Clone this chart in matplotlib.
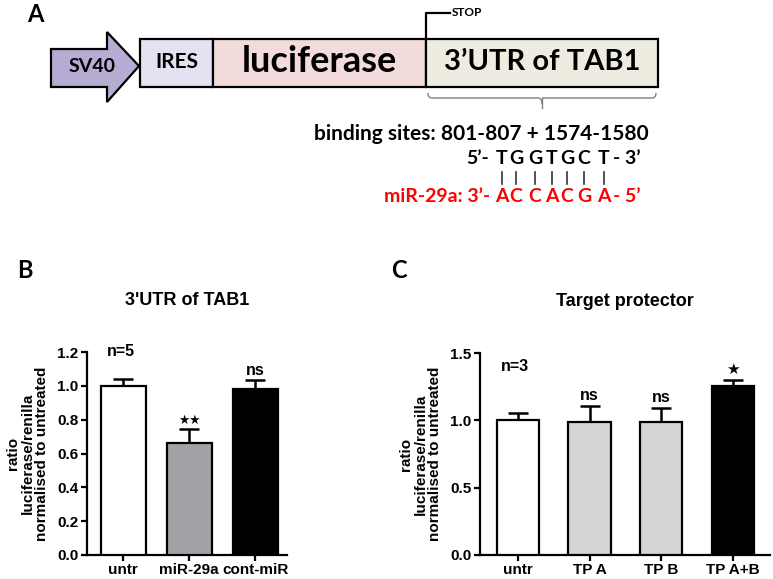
import matplotlib
matplotlib.use('Agg')
from matplotlib import pyplot as plt
from matplotlib.patches import Polygon, Rectangle
from matplotlib.path import Path
from matplotlib.patches import PathPatch

# panel B data
b_categories = ['untr', 'miR-29a', 'cont-miR']
b_means = [1.00, 0.664, 0.979]
b_errors = [0.038, 0.081, 0.055]
b_colors = ['white', '#a3a3a7', 'black']
b_marks = ['', '\u2605\u2605', 'ns']
b_yticks = [0.0, 0.2, 0.4, 0.6, 0.8, 1.0, 1.2]

# panel C data
c_categories = ['untr', 'TP A', 'TP B', 'TP A+B']
c_means = [1.00, 0.99, 0.99, 1.255]
c_errors = [0.052, 0.116, 0.099, 0.045]
c_colors = ['white', '#d4d4d4', '#d4d4d4', 'black']
c_marks = ['', 'ns', 'ns', '\u2605']
c_yticks = [0.0, 0.5, 1.0, 1.5]

# sequence pairing in panel A
target_seq = ['T', 'G', 'G', 'T', 'G', 'C', 'T']
mir_seq = ['A', 'C', 'C', 'A', 'C', 'G', 'A']

W, H = 773, 579
plt.rcParams['font.family'] = ['Liberation Sans', 'DejaVu Sans']
fig = plt.figure(figsize=(W / 100, H / 100), dpi=100)

# ---- panel A: construct diagram, drawn in pixel coords ----
ax0 = fig.add_axes([0, 0, 1, 1])
ax0.set_xlim(0, W)
ax0.set_ylim(H, 0)
ax0.axis('off')
cal = ['Lato', 'DejaVu Sans']

ax0.text(35, 15, 'A', family=cal, fontsize=17, fontweight='bold', ha='center', va='center')
ax0.text(25, 271, 'B', family=cal, fontsize=17, fontweight='bold', ha='center', va='center')
ax0.text(399, 271, 'C', family=cal, fontsize=17, fontweight='bold', ha='center', va='center')

arrow = Polygon([(51, 49), (107, 49), (107, 32), (139, 66), (107, 102), (107, 87), (51, 87)],
                closed=True, facecolor='#b7acd4', edgecolor='black', lw=1.6)
ax0.add_patch(arrow)
ax0.text(92, 67, 'SV40', family=cal, fontsize=14, fontweight='bold', ha='center', va='center')

boxes = [(140, 213, '#e5e1f0', 'IRES', 15),
         (213, 426, '#f2dcdb', 'luciferase', 26),
         (426, 658, '#eeece1', '3\u2019UTR of TAB1', 21)]
for x0, x1, fc, label, fs in boxes:
    ax0.add_patch(Rectangle((x0, 39), x1 - x0, 48, facecolor=fc, edgecolor='black', lw=1.6))
    ax0.text((x0 + x1) / 2, 62, label, family=cal, fontsize=fs, fontweight='bold',
             ha='center', va='center')

ax0.plot([426, 426, 450], [39, 13, 13], color='black', lw=1.6)
ax0.text(452, 13, 'STOP', family=cal, fontsize=8.5, fontweight='bold', ha='left', va='center')

# brace under 3'UTR
brace = Path([(428, 93), (428, 98), (432, 98), (538, 98), (542, 98), (542, 104),
              (542, 98), (546, 98), (652, 98), (656, 98), (656, 93)],
             [Path.MOVETO, Path.CURVE3, Path.CURVE3, Path.LINETO, Path.CURVE3, Path.CURVE3,
              Path.MOVETO, Path.CURVE3, Path.LINETO, Path.CURVE3, Path.CURVE3])
ax0.add_patch(PathPatch(brace, facecolor='none', edgecolor='#7f7f7f', lw=1.0))
ax0.plot([542, 542], [98, 108], color='#7f7f7f', lw=1.0)

ax0.text(481, 134, 'binding sites: 801-807 + 1574-1580', family=cal, fontsize=15,
         fontweight='bold', ha='center', va='center')

letter_x = [502, 516, 535, 552, 567, 584, 604]
ax0.text(489, 158, '5\u2019-', family=cal, fontsize=14, fontweight='bold', ha='right', va='center')
ax0.text(613, 158, '- 3\u2019', family=cal, fontsize=14, fontweight='bold', ha='left', va='center')
ax0.text(490, 197, 'miR-29a: 3\u2019-', family=cal, fontsize=14, fontweight='bold',
         color='#ff0000', ha='right', va='center')
ax0.text(613, 197, '- 5\u2019', family=cal, fontsize=14, fontweight='bold', color='#ff0000',
         ha='left', va='center')
for x, t, m in zip(letter_x, target_seq, mir_seq):
    ax0.text(x, 158, t, family=cal, fontsize=14, fontweight='bold', ha='center', va='center')
    ax0.text(x, 197, m, family=cal, fontsize=14, fontweight='bold', color='#ff0000',
             ha='center', va='center')
    ax0.plot([x, x], [172, 184], color='#333333', lw=1.2)


# ---- bar panels ----
def bar_panel(rect, cats, means, errs, colors, marks, yticks, ymax, width, title, n_text, n_pos,
              mark_pad, xlim):
    ax = fig.add_axes(rect)
    x = list(range(len(cats)))
    ax.bar(x, means, width=width, color=colors, edgecolor='black', linewidth=1.6, zorder=3)
    ax.errorbar(x, means, yerr=[[0] * len(errs), errs], fmt='none', ecolor='black',
                elinewidth=1.8, capsize=7.5, capthick=1.8, zorder=2)
    for xi, m, e, s in zip(x, means, errs, marks):
        if s:
            if '\u2605' in s:
                ax.text(xi, m + e + mark_pad, s, ha='center', va='bottom',
                        fontsize=11 if len(s) == 1 else 9, family=['DejaVu Sans'])
            else:
                ax.text(xi, m + e + mark_pad, s, ha='center', va='bottom', fontsize=11.5,
                        fontweight='bold')
    ax.text(n_pos[0], n_pos[1], n_text, ha='center', va='center', fontsize=11.5, fontweight='bold')
    ax.set_xlim(*xlim)
    ax.set_ylim(0, ymax)
    ax.set_yticks(yticks)
    ax.set_yticklabels(['%.1f' % v for v in yticks], fontweight='bold', fontsize=11)
    ax.set_xticks(x)
    ax.set_xticklabels(cats, fontweight='bold', fontsize=11)
    for s in ['top', 'right']:
        ax.spines[s].set_visible(False)
    for s in ['left', 'bottom']:
        ax.spines[s].set_linewidth(1.6)
    ax.tick_params(axis='both', width=1.6, length=4, pad=2)
    ax.set_ylabel('ratio\nluciferase/renilla\nnormalised to untreated', fontsize=11,
                  fontweight='bold', labelpad=6, linespacing=1.05)
    ax.set_title(title, fontsize=13, fontweight='bold', pad=34)
    ax.patch.set_alpha(0)
    return ax


bar_panel([87 / W, 24 / H, 200 / W, 203 / H], b_categories, b_means, b_errors, b_colors,
          b_marks, b_yticks, 1.2, 0.68, '3\'UTR of TAB1', 'n=5', (-0.03, 1.205), 0.012,
          (-0.545, 2.48))
bar_panel([480 / W, 24 / H, 290 / W, 202 / H], c_categories, c_means, c_errors, c_colors,
          c_marks, c_yticks, 1.5, 0.59, 'Target protector', 'n=3', (-0.04, 1.40), 0.025,
          (-0.53, 3.52))

fig.savefig('out.png', dpi=100)
